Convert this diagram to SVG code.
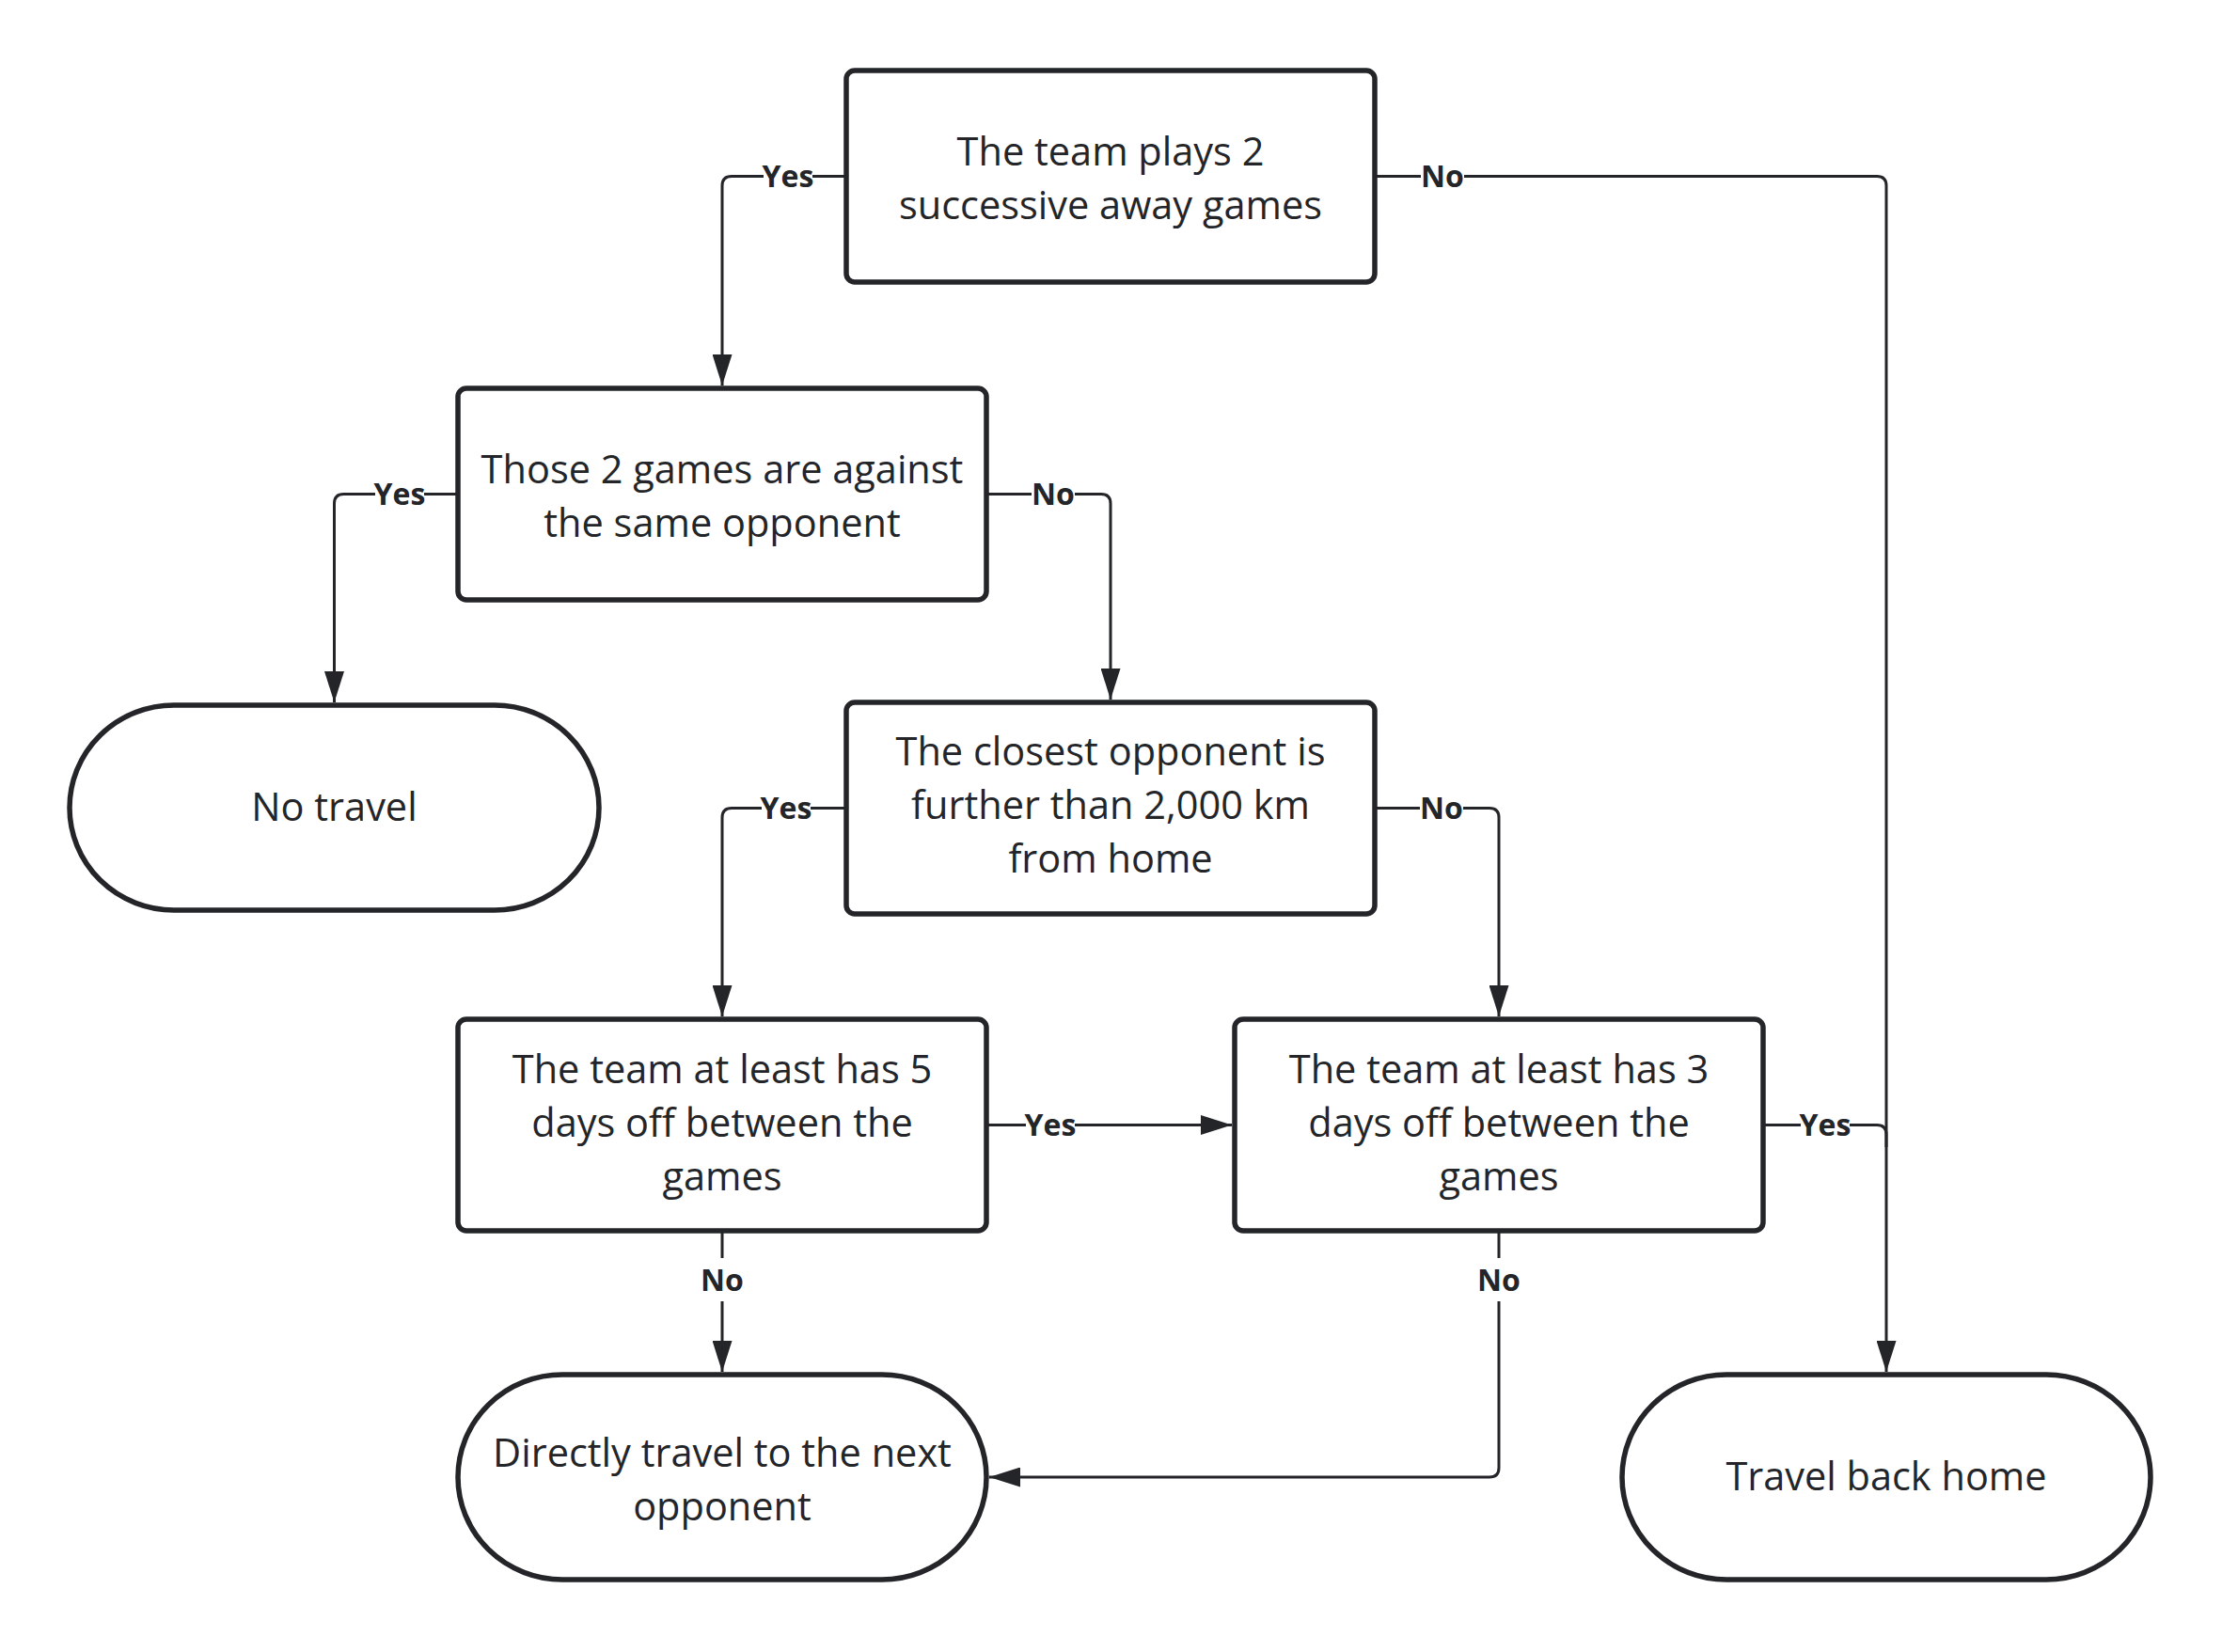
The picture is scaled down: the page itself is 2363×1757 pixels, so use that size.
<svg xmlns="http://www.w3.org/2000/svg" width="2363" height="1757" viewBox="0 0 2363 1757">
<style>
.box{fill:#ffffff;stroke:#232529;stroke-width:5.5}
.t{font-family:"Open Sans","Liberation Sans",sans-serif;font-size:41.5px;fill:#232529;text-anchor:middle}
.c{fill:none;stroke:#232529;stroke-width:3}
.lb{font-family:"Open Sans","Liberation Sans",sans-serif;font-size:32px;font-weight:bold;fill:#232529;text-anchor:middle}
.bg{fill:#ffffff}
</style>
<defs>
<marker id="arr" markerUnits="userSpaceOnUse" markerWidth="33" markerHeight="21" refX="33" refY="10.5" orient="auto">
<path d="M0,0 L33,10.5 L0,21 Z" fill="#232529"/>
</marker>
</defs>
<rect width="2363" height="1757" fill="#ffffff"/>
<g id="connectors">
<path class="c" d="M900,187.5 H778 Q768,187.5 768,197.5 V410" marker-end="url(#arr)"/>
<path class="c" d="M1462,187.5 H1996 Q2006,187.5 2006,197.5 V1459" marker-end="url(#arr)"/>
<path class="c" d="M487,525.5 H365.5 Q355.5,525.5 355.5,535.5 V747" marker-end="url(#arr)"/>
<path class="c" d="M1049,525.5 H1171 Q1181,525.5 1181,535.5 V744" marker-end="url(#arr)"/>
<path class="c" d="M900,859.5 H778 Q768,859.5 768,869.5 V1081" marker-end="url(#arr)"/>
<path class="c" d="M1462,859.5 H1584 Q1594,859.5 1594,869.5 V1081" marker-end="url(#arr)"/>
<path class="c" d="M1049,1196.5 H1310" marker-end="url(#arr)"/>
<path class="c" d="M768,1309 V1459" marker-end="url(#arr)"/>
<path class="c" d="M1875,1196.5 H1996 Q2006,1196.5 2006,1206.5 V1220"/>
<path class="c" d="M1594,1309 V1561 Q1594,1571 1584,1571 H1052" marker-end="url(#arr)"/>
<g id="labels">
<rect class="bg" x="812" y="172" width="52" height="32"/><text class="lb" x="838" y="199">Yes</text>
<rect class="bg" x="1511" y="172" width="46" height="32"/><text class="lb" x="1534" y="199">No</text>
<rect class="bg" x="399" y="510" width="52" height="32"/><text class="lb" x="425" y="537">Yes</text>
<rect class="bg" x="1097" y="510" width="46" height="32"/><text class="lb" x="1120" y="537">No</text>
<rect class="bg" x="810" y="844" width="52" height="32"/><text class="lb" x="836" y="871">Yes</text>
<rect class="bg" x="1510" y="844" width="46" height="32"/><text class="lb" x="1533" y="871">No</text>
<rect class="bg" x="1091" y="1181" width="52" height="32"/><text class="lb" x="1117" y="1208">Yes</text>
<rect class="bg" x="745" y="1338" width="46" height="46"/><text class="lb" x="768" y="1373">No</text>
<rect class="bg" x="1915" y="1181" width="52" height="32"/><text class="lb" x="1941" y="1208">Yes</text>
<rect class="bg" x="1571" y="1338" width="46" height="46"/><text class="lb" x="1594" y="1373">No</text>
</g>
</g>
<g id="n1">
<rect class="box" x="900" y="75" width="562" height="225" rx="9"/>
<text class="t" x="1181" y="176">The team plays 2</text>
<text class="t" x="1181" y="233">successive away games</text>
</g>
<g id="n2">
<rect class="box" x="487" y="413" width="562" height="225" rx="9"/>
<text class="t" x="768" y="514">Those 2 games are against</text>
<text class="t" x="768" y="571">the same opponent</text>
</g>
<g id="n3">
<path class="box" d="M185,750 H526 A111,109 0 0 1 526,968 H185 A111,109 0 0 1 185,750 Z"/>
<text class="t" x="355.5" y="873">No travel</text>
</g>
<g id="n4">
<rect class="box" x="900" y="747" width="562" height="225" rx="9"/>
<text class="t" x="1181" y="814">The closest opponent is</text>
<text class="t" x="1181" y="871">further than 2,000 km</text>
<text class="t" x="1181" y="928">from home</text>
</g>
<g id="n5">
<rect class="box" x="487" y="1084" width="562" height="225" rx="9"/>
<text class="t" x="768" y="1152">The team at least has 5</text>
<text class="t" x="768" y="1209">days off between the</text>
<text class="t" x="768" y="1266">games</text>
</g>
<g id="n6">
<rect class="box" x="1313" y="1084" width="562" height="225" rx="9"/>
<text class="t" x="1594" y="1152">The team at least has 3</text>
<text class="t" x="1594" y="1209">days off between the</text>
<text class="t" x="1594" y="1266">games</text>
</g>
<g id="n7">
<path class="box" d="M598,1462 H938 A111,109 0 0 1 938,1680 H598 A111,109 0 0 1 598,1462 Z"/>
<text class="t" x="768" y="1560">Directly travel to the next</text>
<text class="t" x="768" y="1617">opponent</text>
</g>
<g id="n8">
<path class="box" d="M1836,1462 H2176 A111,109 0 0 1 2176,1680 H1836 A111,109 0 0 1 1836,1462 Z"/>
<text class="t" x="2006" y="1585">Travel back home</text>
</g>
</svg>
